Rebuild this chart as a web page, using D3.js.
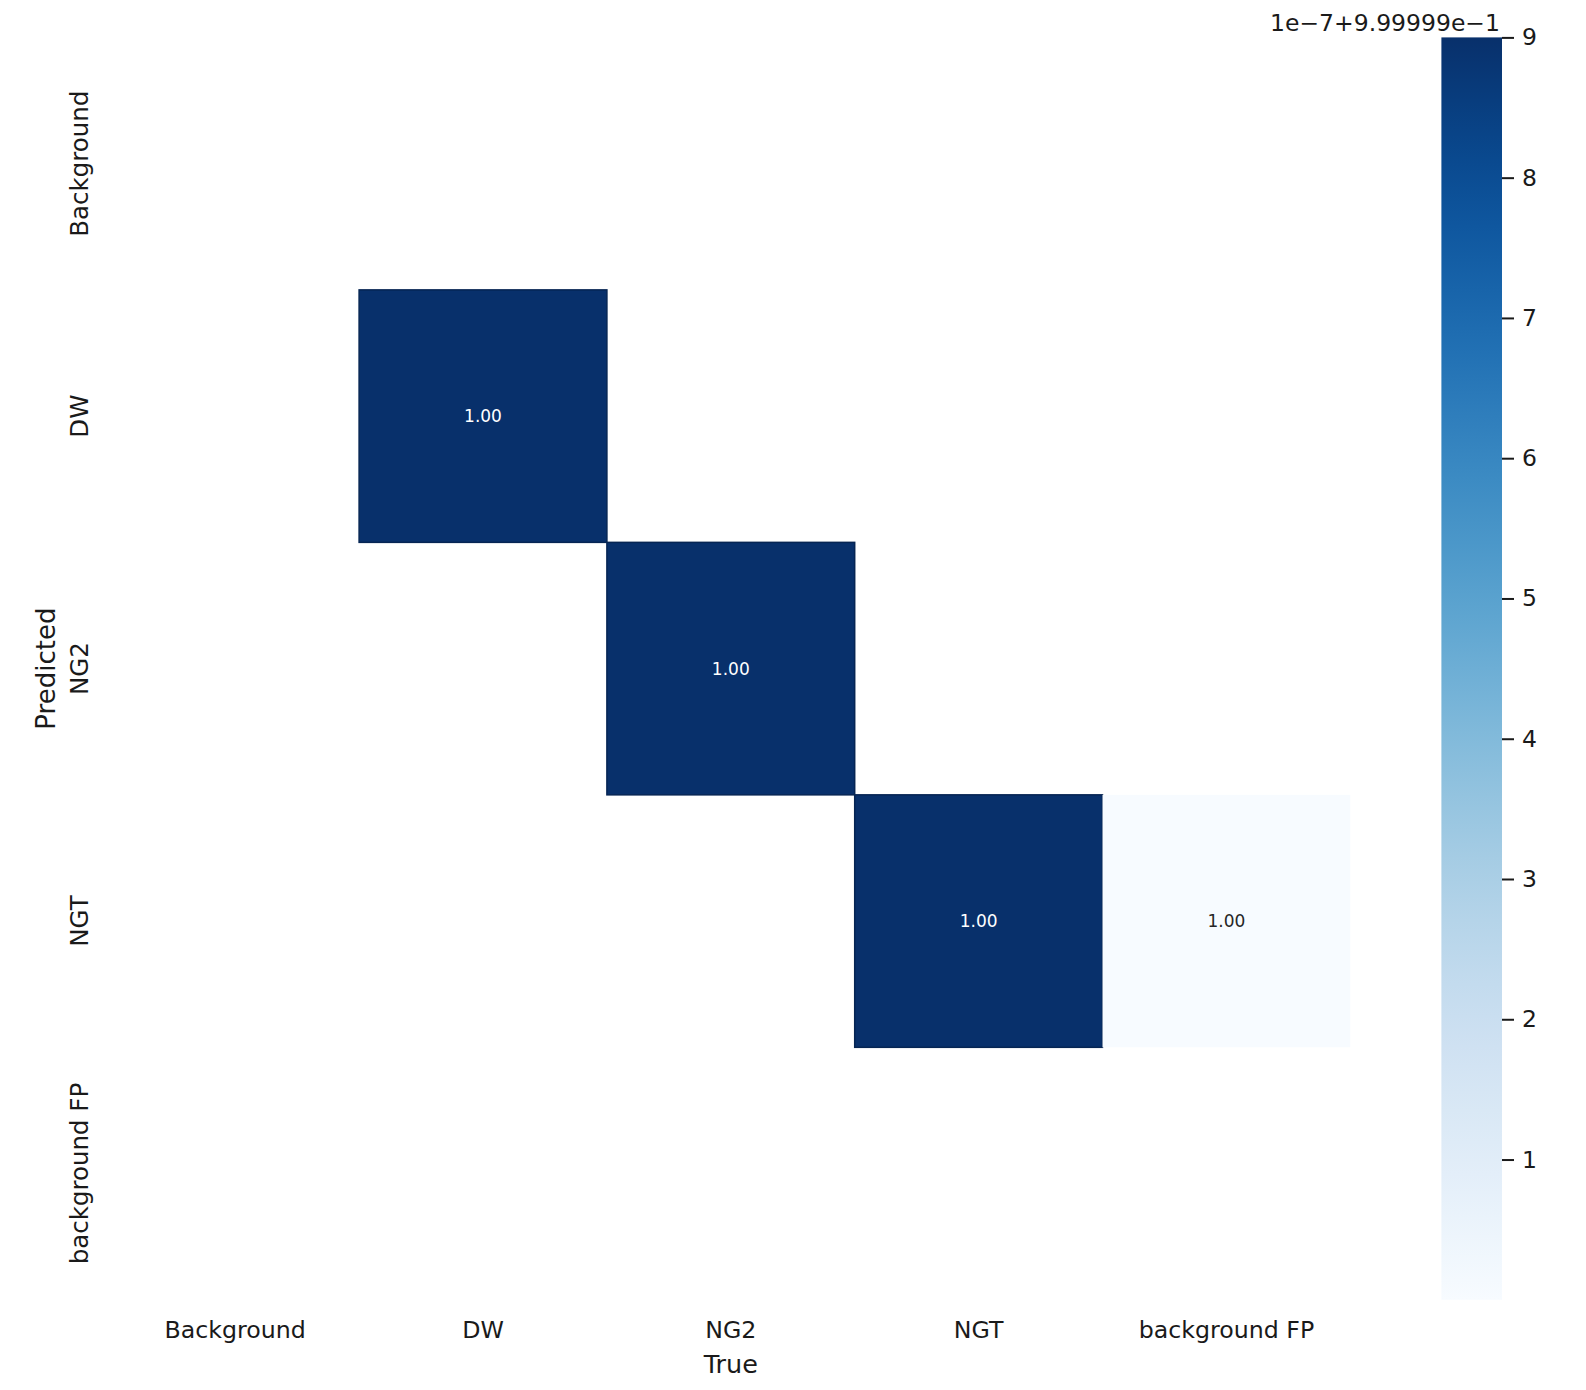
<!DOCTYPE html>
<html>
<head>
<meta charset="utf-8">
<script src="https://cdn.jsdelivr.net/npm/d3@7"></script>
<style>
  body { margin: 0; background: #fff; }
  svg text { font-family: "DejaVu Sans", sans-serif; fill: #1a1a1a; }
</style>
</head>
<body>
<svg id="vis" width="1586" height="1390"></svg>
<script>
// categories (rows = predicted, columns = true)
var classes = ["Background", "DW", "NG2", "NGT", "background FP"];

// non-empty cells of the normalized confusion matrix: [predicted, true, value]
var cells = [
  ["DW", "DW", 1.0],
  ["NG2", "NG2", 1.0],
  ["NGT", "NGT", 1.0],
  ["NGT", "background FP", 0.9999991]
];

// colorbar: offset shown on top, ticks in units of 1e-7
var cbOffset = 0.9999991;
var cbStep = 1e-7;
var cbTicks = [1, 2, 3, 4, 5, 6, 7, 8, 9];
var cbMin = 0.9999991;
var cbMax = 1.0;

var svg = d3.select("#vis");

var heat = { left: 111.3, right: 1350.3, top: 37.4, bottom: 1299.8 };
var cb = { left: 1441.4, right: 1502, top: 37.4, bottom: 1299.8 };

var xScale = d3.scaleBand()
  .domain(classes)
  .range([heat.left, heat.right]);

var yScale = d3.scaleBand()
  .domain(classes)
  .range([heat.top, heat.bottom]);

var colorScale = d3.scaleSequential(d3.interpolateBlues)
  .domain([cbMin, cbMax]);

function isDark(v) {
  return (v - cbMin) / (cbMax - cbMin) > 0.5;
}

// cells
var plot = svg.append("g").attr("id", "plot");

plot.selectAll("rect.cell")
  .data(cells)
  .enter()
  .append("rect")
  .attr("class", "cell")
  .attr("x", function(d){ return xScale(d[1]); })
  .attr("y", function(d){ return yScale(d[0]); })
  .attr("width", xScale.bandwidth())
  .attr("height", yScale.bandwidth())
  .attr("fill", function(d){ return colorScale(d[2]); })
  .attr("stroke", function(d){
    return isDark(d[2]) ? d3.color(colorScale(d[2])).darker(0.7) : "none";
  })
  .attr("stroke-width", 1.5);

plot.selectAll("text.annot")
  .data(cells)
  .enter()
  .append("text")
  .attr("class", "annot")
  .attr("x", function(d){ return xScale(d[1]) + xScale.bandwidth() / 2; })
  .attr("y", function(d){ return yScale(d[0]) + yScale.bandwidth() / 2; })
  .attr("text-anchor", "middle")
  .attr("dominant-baseline", "central")
  .style("font-size", "17px")
  .style("fill", function(d){ return isDark(d[2]) ? "#ffffff" : "#262626"; })
  .text(function(d){ return d3.format(".2f")(d[2]); });

// x labels
svg.append("g").selectAll("text")
  .data(classes)
  .enter()
  .append("text")
  .attr("x", function(d){ return xScale(d) + xScale.bandwidth() / 2; })
  .attr("y", 1330)
  .attr("text-anchor", "middle")
  .attr("dominant-baseline", "central")
  .style("font-size", "23.7px")
  .text(function(d){ return d; });

// y labels
svg.append("g").selectAll("text")
  .data(classes)
  .enter()
  .append("text")
  .attr("transform", function(d){
    return "translate(79," + (yScale(d) + yScale.bandwidth() / 2) + ") rotate(-90)";
  })
  .attr("text-anchor", "middle")
  .attr("dominant-baseline", "central")
  .style("font-size", "24.5px")
  .text(function(d){ return d; });

svg.append("text")
  .attr("x", (heat.left + heat.right) / 2)
  .attr("y", 1364)
  .attr("text-anchor", "middle")
  .attr("dominant-baseline", "central")
  .style("font-size", "25.5px")
  .text("True");

svg.append("text")
  .attr("transform", "translate(46," + ((heat.top + heat.bottom) / 2) + ") rotate(-90)")
  .attr("text-anchor", "middle")
  .attr("dominant-baseline", "central")
  .style("font-size", "26px")
  .text("Predicted");

// colorbar
var defs = svg.append("defs");
var grad = defs.append("linearGradient")
  .attr("id", "cbGrad")
  .attr("x1", 0).attr("y1", 1)
  .attr("x2", 0).attr("y2", 0);

grad.selectAll("stop")
  .data(d3.range(0, 1.0001, 0.05))
  .enter()
  .append("stop")
  .attr("offset", function(d){ return d; })
  .attr("stop-color", function(d){ return d3.interpolateBlues(d); });

svg.append("rect")
  .attr("x", cb.left)
  .attr("y", cb.top)
  .attr("width", cb.right - cb.left)
  .attr("height", cb.bottom - cb.top)
  .attr("fill", "url(#cbGrad)");

var cbScale = d3.scaleLinear()
  .domain([cbMin, cbMax])
  .range([cb.bottom, cb.top]);

var cbAxis = d3.axisRight(cbScale)
  .tickValues(cbTicks.map(function(k){ return cbOffset + k * cbStep; }))
  .tickSize(12)
  .tickPadding(8)
  .tickFormat(function(v){ return Math.round((v - cbOffset) / cbStep); });

var cbGroup = svg.append("g")
  .attr("transform", "translate(" + cb.right + ",0)")
  .call(cbAxis);
cbGroup.select(".domain").remove();
cbGroup.selectAll(".tick line").attr("stroke", "#1a1a1a").attr("stroke-width", 2);
cbGroup.selectAll(".tick text")
  .style("font-family", "DejaVu Sans, sans-serif")
  .style("font-size", "23.5px")
  .attr("fill", "#1a1a1a");

svg.append("text")
  .attr("x", 1500)
  .attr("y", 31)
  .attr("text-anchor", "end")
  .style("font-size", "23.5px")
  .text("1e\u22127+9.99999e\u22121");
</script>
</body>
</html>
